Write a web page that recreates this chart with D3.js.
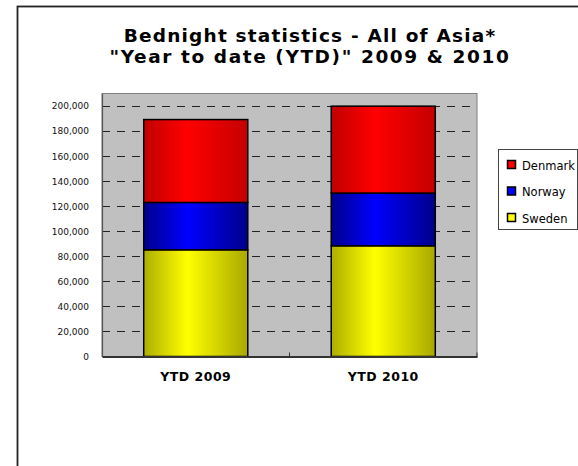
<!DOCTYPE html>
<html>
<head>
<meta charset="utf-8">
<script src="https://cdn.jsdelivr.net/npm/d3@7"></script>
<style>
  body { margin: 0; background: #fff; }
  text { font-family: "DejaVu Sans", Verdana, sans-serif; }
</style>
</head>
<body>
<svg id="chart" width="578" height="466"></svg>
<script>
// data
var categories = ["YTD 2009", "YTD 2010"];
var sweden  = [85200, 88400];
var norway  = [37800, 42100];
var denmark = [66200, 69400];
var seriesNames = ["Sweden", "Norway", "Denmark"];
var yTicks = [0, 20000, 40000, 60000, 80000, 100000, 120000, 140000, 160000, 180000, 200000];
var titleLines = ["Bednight statistics - All of Asia*", "\"Year to date (YTD)\" 2009 & 2010"];

var colors = {
  Sweden:  ["#adad00", "#ffff00", "#a8a800"],
  Norway:  ["#00008c", "#0000ff", "#00008a"],
  Denmark: ["#c00000", "#ff0000", "#c40000"]
};

var data = categories.map(function(c, i) {
  return {cat: c, Sweden: sweden[i], Norway: norway[i], Denmark: denmark[i]};
});

var svg = d3.select("#chart"),
    margin = {top: 93.5, left: 102, bottom: 109.5, right: 101},
    width = +svg.attr("width"),
    height = +svg.attr("height");

// outer chart frame (runs off the page to the right and bottom)
svg.append("rect")
  .attr("x", 17.5).attr("y", 6.5)
  .attr("width", 700).attr("height", 600)
  .attr("fill", "#fff")
  .attr("stroke", "#222")
  .attr("stroke-width", 1.8);

var defs = svg.append("defs");
seriesNames.forEach(function(s) {
  var g = defs.append("linearGradient")
    .attr("id", "grad-" + s)
    .attr("x1", "0%").attr("x2", "100%").attr("y1", "0%").attr("y2", "0%");
  g.append("stop").attr("offset", "0%").attr("stop-color", colors[s][0]);
  g.append("stop").attr("offset", "42%").attr("stop-color", colors[s][1]);
  g.append("stop").attr("offset", "100%").attr("stop-color", colors[s][2]);
});

// title
svg.append("g").selectAll("text")
  .data(titleLines)
  .enter().append("text")
    .attr("x", 310)
    .attr("y", (d, i) => 42 + i * 21)
    .attr("text-anchor", "middle")
    .attr("font-size", 18.5)
    .attr("font-weight", "bold")
    .attr("letter-spacing", (d, i) => i ? 1.6 : 1.2)
    .attr("fill", "#000")
    .text(d => d);

var x = d3.scaleBand()
  .domain(categories)
  .range([margin.left, width - margin.right])
  .paddingInner(0.445)
  .paddingOuter(0.2225);

var y = d3.scaleLinear()
  .domain([0, 210000])
  .range([height - margin.bottom, margin.top]);

// plot area
svg.append("rect")
  .attr("x", margin.left).attr("y", margin.top)
  .attr("width", width - margin.right - margin.left)
  .attr("height", height - margin.bottom - margin.top)
  .attr("fill", "#c0c0c0")
  .attr("stroke", "#808080")
  .attr("stroke-width", 1);

// dashed gridlines
svg.append("g")
  .attr("class", "y-grid")
  .selectAll("line")
  .data(yTicks.filter(d => d > 0))
  .enter().append("line")
    .attr("x1", margin.left)
    .attr("x2", width - margin.right)
    .attr("y1", d => Math.round(y(d)) + 0.5)
    .attr("y2", d => Math.round(y(d)) + 0.5)
    .attr("stroke", "#222")
    .attr("stroke-width", 1)
    .attr("stroke-dasharray", "8,7");

// y axis labels
svg.append("g")
  .attr("class", "y-axis")
  .attr("transform", "translate(" + margin.left + ",0)")
  .call(d3.axisLeft(y).tickValues(yTicks).tickSize(0).tickPadding(13).tickFormat(d3.format(",")))
  .call(g => g.select(".domain").attr("stroke", "#555").attr("stroke-width", 1.2))
  .call(g => g.selectAll("text").attr("font-size", 9).attr("fill", "#111")
    .attr("font-family", "'DejaVu Sans', Verdana, sans-serif"));

// stacked bars
var stacked = d3.stack().keys(seriesNames)(data);

svg.append("g").selectAll("g")
  .data(stacked)
  .enter().append("g")
    .attr("fill", d => "url(#grad-" + d.key + ")")
  .selectAll("rect")
  .data(d => d)
  .enter().append("rect")
    .attr("x", d => x(d.data.cat))
    .attr("y", d => y(d[1]))
    .attr("width", x.bandwidth())
    .attr("height", d => y(d[0]) - y(d[1]))
    .attr("stroke", "#000")
    .attr("stroke-width", 1.5);

// x axis
svg.append("g")
  .attr("class", "x-axis")
  .attr("transform", "translate(0," + (height - margin.bottom) + ")")
  .call(d3.axisBottom(x).tickSize(0).tickPadding(16))
  .call(g => g.select(".domain").attr("stroke", "#333").attr("stroke-width", 2))
  .call(g => g.selectAll("text").attr("font-size", 12.5).attr("font-weight", "bold")
    .attr("letter-spacing", 0.5)
    .attr("fill", "#000").attr("font-family", "'DejaVu Sans', Verdana, sans-serif"));

// tick marks between / after categories
svg.append("g").selectAll("line")
  .data([(margin.left + width - margin.right) / 2, width - margin.right])
  .enter().append("line")
    .attr("x1", d => d).attr("x2", d => d)
    .attr("y1", height - margin.bottom - 4)
    .attr("y2", height - margin.bottom)
    .attr("stroke", "#333")
    .attr("stroke-width", 1);

// legend
var legend = svg.append("g").attr("transform", "translate(498.5,149.5)");
legend.append("rect")
  .attr("width", 79).attr("height", 80)
  .attr("fill", "#fff")
  .attr("stroke", "#444")
  .attr("stroke-width", 1);

var item = legend.selectAll(".item")
  .data(seriesNames.slice().reverse())
  .enter().append("g")
    .attr("class", "item")
    .attr("transform", (d, i) => "translate(0," + (15.5 + i * 26.5) + ")");

item.append("rect")
  .attr("x", 9).attr("y", -4.5)
  .attr("width", 8).attr("height", 8)
  .attr("fill", d => colors[d][1])
  .attr("stroke", "#000")
  .attr("stroke-width", 1.5);

item.append("text")
  .attr("x", 23.5).attr("y", 4.5)
  .attr("font-size", 11.5)
  .attr("fill", "#000")
  .text(d => d);
</script>
</body>
</html>
